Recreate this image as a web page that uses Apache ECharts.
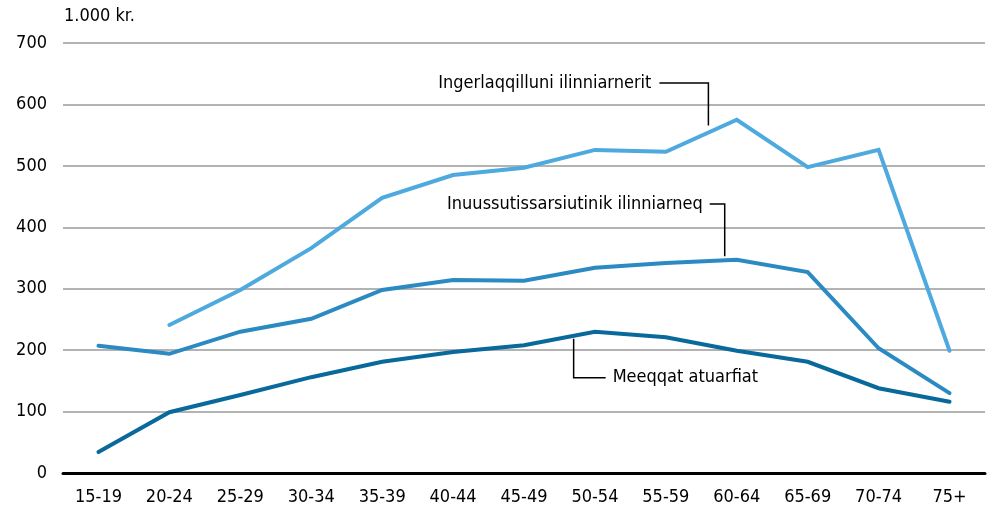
<!DOCTYPE html>
<html><head><meta charset="utf-8">
<script src="https://cdn.jsdelivr.net/npm/echarts@6/dist/echarts.min.js"></script>
<style>html,body{margin:0;padding:0;background:#fff}#c{width:989px;height:511px}</style>
</head><body><div id="c"></div>
<script>
var categories = ['15-19','20-24','25-29','30-34','35-39','40-44','45-49','50-54','55-59','60-64','65-69','70-74','75+'];
var ingerlaqqilluni = [null,241,298,366,448,485,497,526,523,575,498,526,199];
var inuussutissarsiutinik = [207,194,230,251,298,314,313,334,342,347,327,203,130];
var meeqqat = [34,99,127,156,181,197,208,230,221,199,181,138,116];
var yTicks = [0,100,200,300,400,500,600,700];
var unitLabel = '1.000 kr.';
var names = ['Ingerlaqqilluni ilinniarnerit','Inuussutissarsiutinik ilinniarneq','Meeqqat atuarfiat'];

var FONT = '"Liberation Sans Narrow","DejaVu Sans Condensed","Roboto Condensed",sans-serif';
var FS = 18;
var chart = echarts.init(document.getElementById('c'));
function line(name, data, color){
  return {name:name,type:'line',data:data,symbol:'none',smooth:false,connectNulls:false,
    lineStyle:{color:color,width:4,cap:'round',join:'miter'},z:3};
}
chart.setOption({
  animation:false,
  grid:{left:63,right:4,top:43,bottom:38},
  xAxis:{type:'category',data:categories,boundaryGap:true,
    axisLine:{show:true,lineStyle:{color:'#000',width:3}},
    axisTick:{show:false},
    axisLabel:{color:'#000',fontSize:FS,fontFamily:FONT,margin:15}},
  yAxis:{type:'value',min:yTicks[0],max:yTicks[yTicks.length-1],interval:100,
    axisLine:{show:false},axisTick:{show:false},
    axisLabel:{color:'#000',fontSize:FS,fontFamily:FONT,margin:16},
    splitLine:{lineStyle:{color:'#9a9a9a',width:1.5}}},
  series:[line(names[0],ingerlaqqilluni,'#4ea9df'),line(names[1],inuussutissarsiutinik,'#2a8ac1'),line(names[2],meeqqat,'#09699b')]
});

function px(i,v){return chart.convertToPixel({gridIndex:0},[i,v]);}
function interp(data,i,t){
  var p0 = px(i,data[i]), p1 = px(i+1,data[i+1]);
  return [p0[0]+(p1[0]-p0[0])*t, p0[1]+(p1[1]-p0[1])*t];
}
var g = [];
g.push({type:'text',left:64,top:7,style:{text:unitLabel,fill:'#000',font:FS+'px '+FONT}});
var a1 = interp(ingerlaqqilluni,8,0.6);
var y1 = px(0,635)[1];
g.push({type:'polyline',shape:{points:[[a1[0]-49,y1],[a1[0],y1],[a1[0],a1[1]-7]]},style:{stroke:'#000',lineWidth:1.5,fill:null}});
g.push({type:'text',x:a1[0]-57,y:y1,style:{text:names[0],fill:'#000',font:FS+'px '+FONT,align:'right',verticalAlign:'middle'}});
var a2 = interp(inuussutissarsiutinik,8,0.83);
var y2 = px(0,438)[1];
g.push({type:'polyline',shape:{points:[[a2[0]-15,y2],[a2[0],y2],[a2[0],a2[1]-4]]},style:{stroke:'#000',lineWidth:1.5,fill:null}});
g.push({type:'text',x:a2[0]-22,y:y2,style:{text:names[1],fill:'#000',font:FS+'px '+FONT,align:'right',verticalAlign:'middle'}});
var a3 = interp(meeqqat,6,0.7);
var y3 = px(0,155)[1];
g.push({type:'polyline',shape:{points:[[a3[0],a3[1]+3],[a3[0],y3],[a3[0]+32,y3]]},style:{stroke:'#000',lineWidth:1.5,fill:null}});
g.push({type:'text',x:a3[0]+39,y:y3,style:{text:names[2],fill:'#000',font:FS+'px '+FONT,align:'left',verticalAlign:'middle'}});
chart.setOption({graphic:g});
</script></body></html>
